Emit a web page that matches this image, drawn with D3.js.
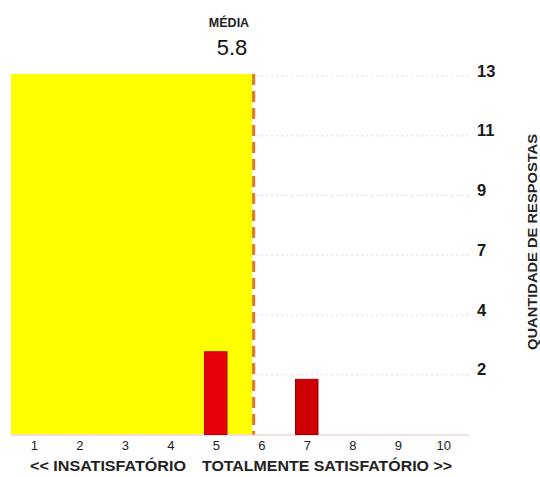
<!DOCTYPE html>
<html>
<head>
<meta charset="utf-8">
<script src="https://cdn.jsdelivr.net/npm/d3@7"></script>
<style>
  html, body { margin: 0; padding: 0; background: #fff; }
  svg { display: block; font-family: "Liberation Sans", Arial, sans-serif; }
</style>
</head>
<body>
<svg id="chart" width="540" height="477"></svg>
<script>
// Satisfaction scores (1–10) and the number of answers for each one
const scores = [1, 2, 3, 4, 5, 6, 7, 8, 9, 10];
const counts = [0, 0, 0, 0, 3, 0, 2, 0, 0, 0];
const yMax = 13;
const yTickSteps = [1, 2, 3, 4, 5, 6];
const meanTitle = "MÉDIA";
const yTitle = "QUANTIDADE DE RESPOSTAS";
const leftCaption = "<< INSATISFATÓRIO";
const rightCaption = "TOTALMENTE SATISFATÓRIO >>";

const total = d3.sum(counts);
const mean = d3.sum(scores, (s, i) => s * counts[i]) / total;

const svg = d3.select("#chart");
const plotTop = 74, plotBottom = 434.5;

const x = d3.scaleLinear().domain([0.5, 10.5]).range([11, 466]);
const y = d3.scaleLinear().domain([0, yMax]).range([plotBottom, 76]);
const barW = 22.5;

// Area below the mean
svg.append("rect")
  .attr("x", x.range()[0]).attr("y", plotTop)
  .attr("width", x(mean) - x.range()[0]).attr("height", plotBottom - plotTop)
  .attr("fill", "#ffff00");

// Horizontal guide lines on the right of the mean
const tickVals = yTickSteps.map(k => yMax * k / yTickSteps.length);
svg.append("g").selectAll("line").data(tickVals).join("line")
  .attr("x1", x(mean) + 4).attr("x2", 469)
  .attr("y1", d => y(d)).attr("y2", d => y(d))
  .attr("stroke", "#dcdcdc").attr("stroke-width", 1)
  .attr("stroke-dasharray", "2,3");

// Baseline
svg.append("line")
  .attr("x1", x.range()[0]).attr("x2", 469)
  .attr("y1", plotBottom + 0.5).attr("y2", plotBottom + 0.5)
  .attr("stroke", "#f2d4d4").attr("stroke-width", 1.5);

// Bars
svg.append("g").selectAll("rect").data(scores.map((s, i) => ({ s, c: counts[i] })).filter(d => d.c > 0))
  .join("rect")
  .attr("x", d => x(d.s) - barW / 2)
  .attr("y", d => y(d.c))
  .attr("width", barW)
  .attr("height", d => y(0) - y(d.c))
  .attr("fill", d => d.s < mean ? "#e8000b" : "#cc0000")
  .attr("stroke", d => d.s < mean ? "#b40000" : "#a00000")
  .attr("stroke-width", 1);

// Mean marker
svg.append("line")
  .attr("x1", x(mean) + 1.5).attr("x2", x(mean) + 1.5)
  .attr("y1", plotTop).attr("y2", plotBottom)
  .attr("stroke", "#e5771e").attr("stroke-width", 3)
  .attr("stroke-dasharray", "11,6");

// Mean title and value
svg.append("text").attr("x", 229).attr("y", 27)
  .attr("text-anchor", "middle").attr("font-size", 12.5).attr("font-weight", "bold")
  .attr("fill", "#222").text(meanTitle);
svg.append("text").attr("x", 232).attr("y", 55)
  .attr("text-anchor", "middle").attr("font-size", 22)
  .attr("fill", "#111").text(d3.format(".1f")(mean));

// Right axis
const yAxis = d3.axisRight(y).tickValues(tickVals).tickSize(0).tickPadding(0)
  .tickFormat(d => Math.round(d));
const gy = svg.append("g").attr("transform", "translate(477,0)").call(yAxis);
gy.select(".domain").remove();
gy.selectAll("text").attr("dy", "0").attr("font-size", 16.5).attr("font-weight", "bold")
  .attr("font-family", "Liberation Sans, Arial, sans-serif").attr("fill", "#1a1a1a");

// Bottom axis
const xAxis = d3.axisBottom(x).tickValues(scores).tickSize(0).tickPadding(0);
const gx = svg.append("g").attr("transform", "translate(0,450)").call(xAxis);
gx.select(".domain").remove();
gx.selectAll("text").attr("dy", "0").attr("y", 0).attr("font-size", 13)
  .attr("font-family", "Liberation Sans, Arial, sans-serif").attr("fill", "#222");

// Captions
svg.append("text").attr("x", 30).attr("y", 471).attr("font-size", 14).attr("font-weight", "bold")
  .attr("textLength", 156).attr("lengthAdjust", "spacingAndGlyphs")
  .attr("fill", "#222").text(leftCaption);
svg.append("text").attr("x", 202).attr("y", 471).attr("font-size", 14).attr("font-weight", "bold")
  .attr("textLength", 250).attr("lengthAdjust", "spacingAndGlyphs")
  .attr("fill", "#222").text(rightCaption);

svg.append("text")
  .attr("transform", "translate(537,242) rotate(-90)")
  .attr("text-anchor", "middle").attr("font-size", 12.5).attr("font-weight", "bold")
  .attr("textLength", 216).attr("lengthAdjust", "spacingAndGlyphs")
  .attr("fill", "#222").text(yTitle);
</script>
</body>
</html>
